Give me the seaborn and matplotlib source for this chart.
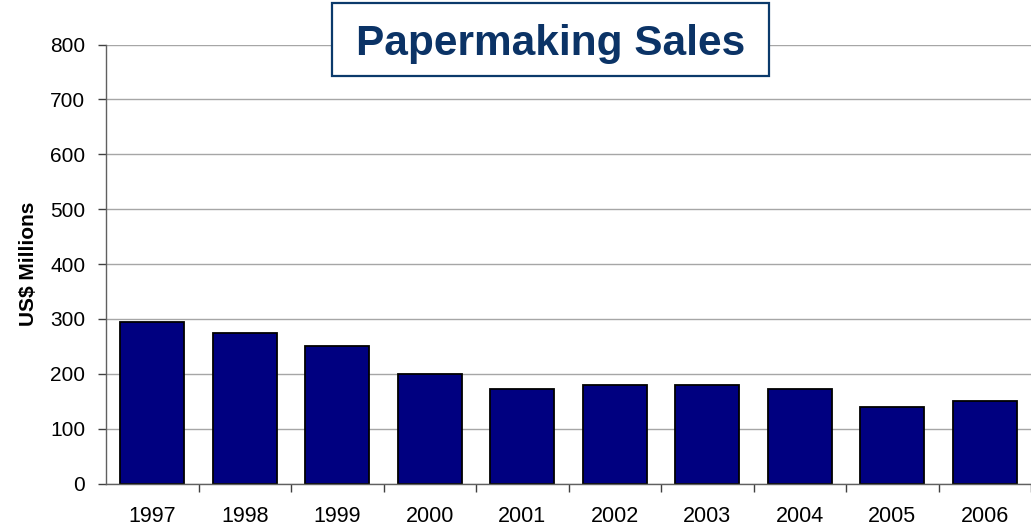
import matplotlib
matplotlib.use("Agg")
import matplotlib.pyplot as plt
from matplotlib.patches import Rectangle
import seaborn as sns
import pandas as pd

years = ["1997", "1998", "1999", "2000", "2001", "2002", "2003", "2004", "2005", "2006"]
sales = [294, 274, 251, 200, 173, 179, 179, 173, 140, 150]
y_ticks = [0, 100, 200, 300, 400, 500, 600, 700, 800]

title_text = "Papermaking Sales"
y_label = "US$ Millions"

df = pd.DataFrame({"year": years, "sales": sales})

sns.set_theme(style="white")
plt.rcParams["font.family"] = ["Liberation Sans", "DejaVu Sans"]

W, H = 1031, 528
fig = plt.figure(figsize=(W / 100, H / 100), dpi=100)

ax_left, ax_right, ax_top, ax_bottom = 106, 1031, 44.5, 483.5
ax = fig.add_axes([ax_left / W, (H - ax_bottom) / H,
                   (ax_right - ax_left) / W, (ax_bottom - ax_top) / H])

sns.barplot(data=df, x="year", y="sales", ax=ax, color="#000080",
            width=0.69, edgecolor="black", linewidth=1.3, saturation=1)

cat_px = 93.0
ax.set_xlim(-0.5, (ax_right - ax_left) / cat_px - 0.5)
ax.set_ylim(0, 800)
ax.set_yticks(y_ticks)
ax.set_yticklabels([str(t) for t in y_ticks])

# category boundaries carry the x tick marks; labels sit at the centres
ax.set_xticks([i + 0.5 for i in range(len(years))], minor=False)
ax.set_xticklabels([])
ax.set_xticks(range(len(years)), minor=True)
ax.set_xticklabels(years, minor=True)
ax.tick_params(axis="x", which="major", direction="out", length=6,
               width=1, color="#404040", bottom=True)
ax.tick_params(axis="x", which="minor", length=0, pad=16,
               labelsize=15.5, labelcolor="black", bottom=True)
ax.tick_params(axis="y", direction="out", length=6, width=1,
               color="#404040", pad=9, labelsize=15, labelcolor="black", left=True)

ax.grid(axis="y", color="#a6a6a6", linewidth=1.0)
ax.set_axisbelow(True)
for side in ["top", "right"]:
    ax.spines[side].set_visible(False)
for side in ["left", "bottom"]:
    ax.spines[side].set_color("#606060")
    ax.spines[side].set_linewidth(1.0)

ax.set_xlabel("")
ax.set_ylabel(y_label, fontsize=15, fontweight="bold", color="black")
ax.yaxis.set_label_coords((38 - ax_left) / (ax_right - ax_left), 0.5)

# boxed title
bx0, bx1, by0, by1 = 332, 769, 2.5, 76
fig.patches.append(Rectangle((bx0 / W, 1 - by1 / H), (bx1 - bx0) / W, (by1 - by0) / H,
                             transform=fig.transFigure, facecolor="white",
                             edgecolor="#0b3a6b", linewidth=1.6, zorder=5))
fig.text((bx0 + bx1) / 2 / W, 1 - 55 / H, title_text, ha="center", va="baseline",
         fontsize=30.5, fontweight="bold", color="#0b3366", zorder=6)

fig.savefig("out.png", dpi=100)
